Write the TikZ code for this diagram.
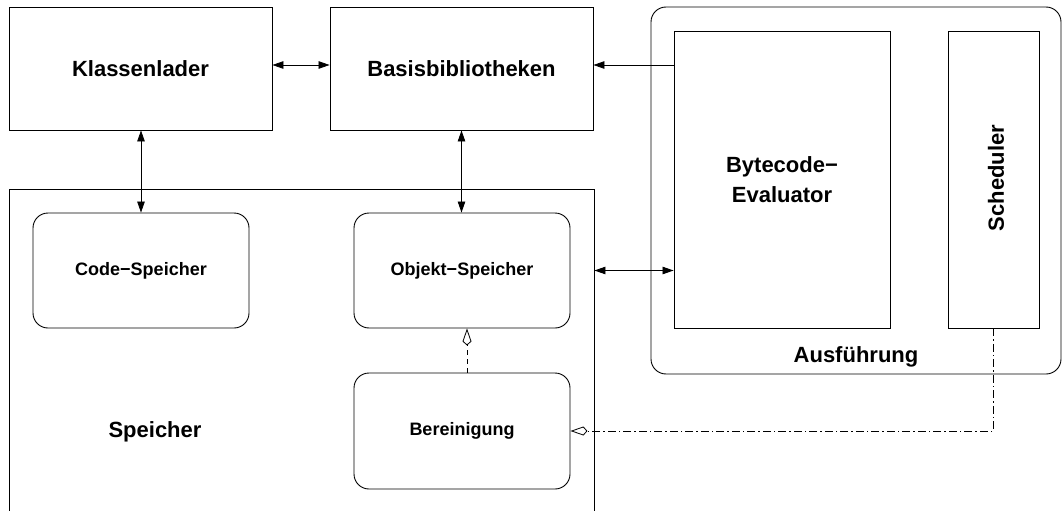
\documentclass[tikz,border=0pt]{standalone}
\usepackage{fontspec}
\setmainfont{Liberation Sans}
\usetikzlibrary{arrows.meta}
\begin{document}
\begin{tikzpicture}[x=1pt,y=-1pt,
  box/.style={draw,line width=0.9pt,inner sep=0pt,align=center},
  rbox/.style={box,rounded corners=15pt},
  bigtext/.style={font=\fontsize{22}{26}\selectfont\bfseries},
  smalltext/.style={font=\fontsize{18}{21}\selectfont\bfseries},
  link/.style={line width=0.8pt},
  both/.style={link,{Triangle[length=11pt,width=7.5pt]}-{Triangle[length=11pt,width=7.5pt]}},
  single/.style={link,-{Triangle[length=11pt,width=7.5pt]}},
  hollow/.style={-{Kite[open,length=17pt,width=9pt,inset=4pt]}},
]
\clip (0,0) rectangle (1063,511);
\useasboundingbox (0,0) rectangle (1063,511);

% upper row
\node[box,bigtext,minimum width=263pt,minimum height=123pt] (kl) at (140.5,68.5) {Klassenlader};
\node[box,bigtext,minimum width=263pt,minimum height=123pt] (bb) at (461.5,68.5) {Basisbibliotheken};

% execution unit
\node[rbox,minimum width=410pt,minimum height=367pt] (aus) at (856,190.5) {};
\node[bigtext,anchor=base] (auslabel) at (856,362) {Ausführung};
\node[box,bigtext,minimum width=216pt,minimum height=297pt] (bc) at (782,179.5) {Bytecode−\\[4pt]Evaluator};
\node[box,minimum width=91pt,minimum height=297pt] (sc) at (993.5,179.5) {};
\node[bigtext,rotate=90] (sclabel) at (996,178) {Scheduler};

% memory
\node[box,minimum width=585pt,minimum height=411pt] (sp) at (301.5,394.5) {};
\node[bigtext] (splabel) at (155,432) {Speicher};
\node[rbox,smalltext,minimum width=216pt,minimum height=115pt] (cs) at (141,270.5) {Code−Speicher};
\node[rbox,smalltext,minimum width=216pt,minimum height=115pt] (os) at (462,270.5) {Objekt−Speicher};
\node[rbox,smalltext,minimum width=216pt,minimum height=116pt] (be) at (462,431) {Bereinigung};

% connectors
\draw[both] ([yshift=3.5pt]kl.east) -- ([yshift=3.5pt]bb.east -| bb.west);
\draw[single] ([yshift=3.5pt]bb.east -| bc.west) -- ([yshift=3.5pt]bb.east);
\draw[both] (kl.south -| cs.north) -- (cs.north);
\draw[both] (bb.south) -- (bb.south |- os.north);
\draw[both] (sp.east |- os.east) -- (bc.west |- os.east);
\draw[link,dash pattern=on 5pt off 4pt,hollow] ([xshift=5pt]be.north) -- ([xshift=5pt]os.south);
\draw[link,dash pattern=on 8pt off 3pt on 1.5pt off 3pt,hollow] (sc.south) |- (be.east);
\end{tikzpicture}
\end{document}
